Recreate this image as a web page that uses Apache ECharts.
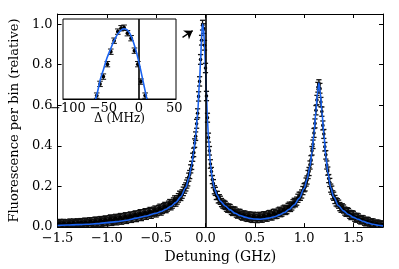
<!DOCTYPE html>
<html>
<head>
<meta charset="utf-8">
<script src="https://cdn.jsdelivr.net/npm/echarts@6/dist/echarts.min.js"></script>
<style>html,body{margin:0;padding:0;background:#fff}#c{width:399px;height:269px}</style>
</head>
<body>
<div id="c"></div>
<script>
// ---- main panel: measured fluorescence (GHz, relative) ----
const dataX = [
-1.500,-1.475,-1.450,-1.425,-1.400,-1.375,-1.350,-1.325,-1.300,-1.275,-1.250,-1.225,-1.200,-1.175,-1.150,-1.125,-1.100,-1.075,-1.050,-1.025,
-1.000,-0.975,-0.950,-0.925,-0.900,-0.875,-0.850,-0.825,-0.800,-0.775,-0.750,-0.725,-0.700,-0.675,-0.650,-0.625,-0.600,-0.575,-0.550,-0.525,
-0.500,-0.475,-0.450,-0.425,-0.400,-0.375,-0.350,-0.325,-0.300,-0.275,-0.250,-0.225,
-0.20,-0.19,-0.18,-0.17,-0.16,-0.15,-0.14,-0.13,-0.12,-0.11,-0.10,-0.09,-0.08,-0.07,-0.06,-0.05,-0.04,-0.03,-0.02,-0.01,
0.00,0.01,0.02,0.03,0.04,0.05,0.06,0.07,0.08,0.09,0.10,0.11,0.12,0.13,0.14,
0.150,0.175,0.200,0.225,0.250,0.275,0.300,0.325,0.350,0.375,0.400,0.425,0.450,0.475,0.500,0.525,0.550,0.575,0.600,0.625,
0.650,0.675,0.700,0.725,0.750,0.775,0.800,0.825,0.850,0.875,0.900,0.925,0.950,0.975,
1.00,1.01,1.02,1.03,1.04,1.05,1.06,1.07,1.08,1.09,1.10,1.11,1.12,1.13,1.14,1.15,1.16,1.17,1.18,1.19,
1.20,1.21,1.22,1.23,1.24,1.25,1.26,1.27,1.28,1.29,
1.300,1.325,1.350,1.375,1.400,1.425,1.450,1.475,1.500,1.525,1.550,1.575,1.600,1.625,1.650,1.675,1.700,1.725,1.750,1.775,1.800
];
const dataY = [
0.010,0.019,0.008,0.017,0.012,0.021,0.011,0.018,0.022,0.012,0.021,0.025,0.015,0.027,0.018,0.029,0.020,0.031,0.023,0.034,
0.026,0.037,0.028,0.039,0.031,0.043,0.034,0.046,0.038,0.051,0.043,0.056,0.047,0.061,0.052,0.066,0.058,0.072,0.063,0.078,
0.071,0.086,0.080,0.095,0.092,0.107,0.106,0.123,0.124,0.144,0.152,0.176,
0.198,0.212,0.223,0.246,0.259,0.287,0.304,0.344,0.368,0.414,0.448,0.509,0.561,0.644,0.718,0.826,0.921,0.995,0.978,0.896,
0.784,0.646,0.539,0.441,0.376,0.311,0.274,0.234,0.214,0.184,0.176,0.156,0.156,0.139,0.140,
0.132,0.114,0.107,0.093,0.091,0.077,0.078,0.064,0.067,0.054,0.059,0.048,0.054,0.043,0.052,0.042,0.053,0.044,0.056,0.049,
0.062,0.055,0.068,0.063,0.078,0.074,0.088,0.086,0.103,0.104,0.122,0.128,0.152,0.163,
0.194,0.198,0.222,0.232,0.259,0.274,0.306,0.331,0.376,0.408,0.464,0.511,0.576,0.626,0.689,0.702,0.684,0.616,0.569,0.501,
0.459,0.396,0.356,0.306,0.276,0.239,0.220,0.192,0.182,0.159,
0.152,0.124,0.113,0.093,0.089,0.073,0.072,0.057,0.058,0.044,0.046,0.034,0.036,0.025,0.028,0.018,0.021,0.012,0.015,0.008,0.010
];
const dataErr = [
0.019,0.019,0.019,0.019,0.019,0.019,0.019,0.019,0.019,0.019,0.019,0.019,0.019,0.019,0.019,0.019,0.019,0.019,0.019,0.019,
0.020,0.020,0.020,0.020,0.020,0.020,0.020,0.020,0.020,0.020,0.020,0.020,0.020,0.020,0.020,0.020,0.020,0.020,0.020,0.020,
0.021,0.021,0.021,0.021,0.021,0.021,0.021,0.021,0.021,0.021,0.021,0.021,
0.020,0.020,0.020,0.020,0.020,0.020,0.020,0.020,0.021,0.021,0.021,0.022,0.022,0.023,0.023,0.024,0.024,0.024,0.024,0.024,
0.023,0.023,0.022,0.022,0.021,0.021,0.020,0.020,0.020,0.020,0.020,0.020,0.020,0.020,0.020,
0.020,0.020,0.020,0.020,0.020,0.020,0.020,0.020,0.020,0.020,0.020,0.020,0.020,0.020,0.020,0.020,0.020,0.020,0.020,0.020,
0.020,0.020,0.020,0.020,0.020,0.020,0.020,0.020,0.020,0.020,0.020,0.020,0.020,0.020,
0.020,0.020,0.020,0.020,0.020,0.020,0.020,0.021,0.021,0.021,0.022,0.022,0.023,0.023,0.024,0.024,0.024,0.023,0.023,0.022,
0.022,0.021,0.021,0.020,0.020,0.020,0.020,0.020,0.020,0.020,
0.020,0.020,0.020,0.020,0.020,0.020,0.020,0.020,0.020,0.020,0.019,0.019,0.019,0.019,0.019,0.019,0.019,0.019,0.019,0.019,0.019
];
// interleaved bins in the wings (same scan, offset by half a step)
const extraX = [
-1.4875,-1.4625,-1.4375,-1.4125,-1.3875,-1.3625,-1.3375,-1.3125,-1.2875,-1.2625,-1.2375,-1.2125,-1.1875,-1.1625,-1.1375,-1.1125,-1.0875,-1.0625,-1.0375,-1.0125,
-0.9875,-0.9625,-0.9375,-0.9125,-0.8875,-0.8625,-0.8375,-0.8125,-0.7875,-0.7625,-0.7375,-0.7125,-0.6875,-0.6625,-0.6375,-0.6125,-0.5875,-0.5625,-0.5375,-0.5125,
-0.4875,-0.4625,-0.4375,-0.4125,-0.3875,-0.3625,-0.3375,-0.3125,-0.2875,-0.2625,-0.2375,-0.2125,
0.1625,0.1875,0.2125,0.2375,0.2625,0.2875,0.3125,0.3375,0.3625,0.3875,0.4125,0.4375,0.4625,0.4875,0.5125,0.5375,0.5625,0.5875,0.6125,0.6375,
0.6625,0.6875,0.7125,0.7375,0.7625,0.7875,0.8125,0.8375,0.8625,0.8875,0.9125,0.9375,0.9625,0.9875,
1.3125,1.3375,1.3625,1.3875,1.4125,1.4375,1.4625,1.4875,1.5125,1.5375,1.5625,1.5875,1.6125,1.6375,1.6625,1.6875,1.7125,1.7375,1.7625,1.7875
];
const extraY = [
0.016,0.012,0.019,0.010,0.017,0.014,0.021,0.013,0.019,0.023,0.016,0.024,0.019,0.027,0.021,0.030,0.024,0.033,0.027,0.036,
0.030,0.040,0.033,0.043,0.036,0.047,0.040,0.051,0.044,0.055,0.049,0.060,0.054,0.066,0.059,0.071,0.065,0.077,0.071,0.084,
0.078,0.092,0.088,0.101,0.099,0.115,0.114,0.133,0.134,0.156,0.163,0.188,
0.121,0.111,0.098,0.094,0.082,0.080,0.069,0.068,0.058,0.060,0.050,0.055,0.045,0.053,0.044,0.051,0.045,0.055,0.050,0.060,
0.056,0.067,0.062,0.074,0.071,0.084,0.082,0.097,0.097,0.115,0.120,0.142,0.152,0.180,
0.136,0.120,0.101,0.095,0.079,0.076,0.063,0.061,0.049,0.048,0.038,0.038,0.028,0.030,0.020,0.022,0.013,0.016,0.009,0.012
];
const extraErr = [
0.019,0.019,0.019,0.019,0.019,0.019,0.019,0.019,0.019,0.019,0.019,0.019,0.019,0.019,0.019,0.019,0.019,0.019,0.019,0.019,
0.020,0.020,0.020,0.020,0.020,0.020,0.020,0.020,0.020,0.020,0.020,0.020,0.020,0.020,0.020,0.020,0.020,0.020,0.020,0.020,
0.021,0.021,0.021,0.021,0.021,0.021,0.021,0.021,0.021,0.021,0.021,0.021,
0.020,0.020,0.020,0.020,0.020,0.020,0.020,0.020,0.020,0.020,0.020,0.020,0.020,0.020,0.020,0.020,0.020,0.020,0.020,0.020,
0.020,0.020,0.020,0.020,0.020,0.020,0.020,0.020,0.020,0.020,0.020,0.020,0.020,0.020,
0.020,0.020,0.020,0.020,0.020,0.020,0.020,0.020,0.020,0.020,0.019,0.019,0.019,0.019,0.019,0.019,0.019,0.019,0.019,0.019
];
// fitted curve, main panel
const fitX = [-1.5,-1.4,-1.3,-1.2,-1.1,-1.0,-0.9,-0.8,-0.7,-0.6,-0.5,-0.45,-0.4,-0.35,-0.3,-0.25,-0.2,-0.17,-0.14,-0.12,-0.10,-0.08,-0.06,-0.05,-0.04,-0.03,-0.02,-0.01,
0.00,0.01,0.02,0.03,0.05,0.07,0.09,0.12,0.15,0.2,0.25,0.3,0.35,0.4,0.45,0.5,0.55,0.6,0.65,0.7,0.75,0.8,0.85,0.9,0.95,1.0,1.03,1.06,1.08,1.10,1.12,1.135,1.15,1.165,
1.18,1.20,1.22,1.24,1.27,1.30,1.35,1.40,1.45,1.5,1.55,1.6,1.65,1.7,1.75,1.8];
const fitY = [0.008,0.010,0.012,0.014,0.017,0.022,0.027,0.034,0.044,0.055,0.068,0.077,0.088,0.103,0.122,0.150,0.195,0.240,0.305,0.370,0.450,0.560,0.720,0.820,0.930,1.000,0.980,0.900,
0.780,0.650,0.530,0.440,0.310,0.235,0.190,0.155,0.128,0.104,0.085,0.068,0.057,0.049,0.043,0.040,0.039,0.041,0.045,0.051,0.060,0.072,0.088,0.110,0.142,0.190,0.235,0.300,0.370,0.460,0.570,0.660,0.710,0.660,
0.570,0.460,0.350,0.270,0.195,0.148,0.105,0.080,0.062,0.048,0.038,0.028,0.020,0.014,0.009,0.006];
const xTicksMain = [-1.5,-1.0,-0.5,0.0,0.5,1.0,1.5];
const yTicksMain = [0.0,0.2,0.4,0.6,0.8,1.0];
// arrow annotation (data coords of main panel)
const arrowFrom = [-0.233, 0.935];
const arrowTo = [-0.130, 0.968];

// ---- inset: fine scan (MHz) ----
const insetX = [-59.4,-54.8,-50.1,-44.4,-39.6,-34.9,-29.7,-25.0,-20.8,-16.1,-10.9,-6.2,-1.4,2.8,8.9];
const insetY = [0.619,0.685,0.726,0.796,0.866,0.928,0.979,0.998,1.001,0.970,0.942,0.872,0.796,0.698,0.619];
const insetErr = [0.015,0.015,0.015,0.015,0.015,0.015,0.015,0.015,0.015,0.015,0.015,0.015,0.015,0.015,0.015];
const insetFitX = [-62,-58,-54,-50,-45,-40,-35,-30,-25,-21,-17,-13,-9,-5,-1,3,7,11,13];
const insetFitY = [0.585,0.645,0.715,0.765,0.830,0.880,0.928,0.965,0.988,0.995,0.990,0.970,0.935,0.885,0.825,0.755,0.680,0.605,0.565];
const insetXTicks = [-100,-50,0,50];

const FONT = 'DejaVu Serif';
const BLUE = '#1a63f0';
const minusFmt = (v, d) => v.toFixed(d).replace('-', '\u2212');

function makeErr(cw, r, lw) {
  return function (params, api) {
    const x = api.value(0), y = api.value(1), e = api.value(2);
    const t = api.coord([x, y + e]), b = api.coord([x, y - e]), c = api.coord([x, y]);
    const st = { stroke: '#111', lineWidth: lw };
    return {
      type: 'group',
      children: [
        { type: 'line', shape: { x1: t[0], y1: t[1], x2: b[0], y2: b[1] }, style: st },
        { type: 'line', shape: { x1: t[0] - cw, y1: t[1], x2: t[0] + cw, y2: t[1] }, style: st },
        { type: 'line', shape: { x1: b[0] - cw, y1: b[1], x2: b[0] + cw, y2: b[1] }, style: st },
        { type: 'circle', shape: { cx: c[0], cy: c[1], r: r }, style: { fill: '#000' } }
      ]
    };
  };
}

const mainData = dataX.map((x, i) => [x, dataY[i], dataErr[i]])
  .concat(extraX.map((x, i) => [x, extraY[i], extraErr[i]]));
const mainFit = fitX.map((x, i) => [x, fitY[i]]);
const inData = insetX.map((x, i) => [x, insetY[i], insetErr[i]]);
const inFit = insetFitX.map((x, i) => [x, insetFitY[i]]);

const near = (v, arr) => arr.some(t => Math.abs(t - v) < 1e-6);

const chart = echarts.init(document.getElementById('c'), null, { renderer: 'canvas' });
chart.setOption({
  animation: false,
  backgroundColor: '#fff',
  textStyle: { fontFamily: FONT },
  grid: [
    { left: 48, right: 16, top: 14, bottom: 40, show: false },
    { left: 63, top: 19, width: 113, height: 80, show: true, backgroundColor: '#fff', borderColor: '#000', borderWidth: 1, z: 5 }
  ],
  xAxis: [
    { gridIndex: 0, type: 'value', min: -1.5, max: 1.8, interval: 0.5, position: 'bottom',
      axisLine: { onZero: false, lineStyle: { color: '#000', width: 1 } },
      axisTick: { inside: true, length: 4, lineStyle: { color: '#000' } },
      axisLabel: { margin: 5, color: '#000', fontFamily: FONT, fontSize: 13, showMaxLabel: false,
        formatter: v => near(v, xTicksMain) ? minusFmt(v, 1) : '' },
      splitLine: { show: false },
      name: 'Detuning (GHz)', nameLocation: 'middle', nameGap: 21,
      nameTextStyle: { color: '#000', fontFamily: FONT, fontSize: 14 } },
    { gridIndex: 0, type: 'value', min: -1.5, max: 1.8, interval: 0.5, position: 'top',
      axisLine: { onZero: false, lineStyle: { color: '#000', width: 1 } },
      axisTick: { inside: true, length: 4, lineStyle: { color: '#000' } },
      axisLabel: { show: false }, splitLine: { show: false } },
    { gridIndex: 1, type: 'value', min: -107, max: 52.4, splitNumber: 3, position: 'bottom', z: 10,
      axisLine: { onZero: false, lineStyle: { color: '#000', width: 1 } },
      axisTick: { show: false },
      axisLabel: { margin: 3, color: '#000', fontFamily: FONT, fontSize: 13, showMinLabel: true, showMaxLabel: true,
        hideOverlap: false,
        formatter: v => near(v, insetXTicks) ? minusFmt(v, 0) : '' },
      splitLine: { show: false },
      name: '\u0394 (MHz)', nameLocation: 'middle', nameGap: 14, nameMoveOverlap: false,
      nameTextStyle: { color: '#000', fontFamily: FONT, fontSize: 12 } }
  ],
  yAxis: [
    { gridIndex: 0, type: 'value', min: 0, max: 1.05, interval: 0.2, position: 'left',
      axisLine: { onZero: false, lineStyle: { color: '#000', width: 1 } },
      axisTick: { inside: true, length: 4, lineStyle: { color: '#000' } },
      axisLabel: { margin: 5, color: '#000', fontFamily: FONT, fontSize: 13, showMaxLabel: false,
        formatter: v => near(v, yTicksMain) ? minusFmt(v, 1) : '' },
      splitLine: { show: false },
      name: 'Fluorescence per bin (relative)', nameLocation: 'middle', nameGap: 33,
      nameTextStyle: { color: '#000', fontFamily: FONT, fontSize: 13 } },
    { gridIndex: 0, type: 'value', min: 0, max: 1.05, interval: 0.2, position: 'right',
      axisLine: { onZero: false, lineStyle: { color: '#000', width: 1 } },
      axisTick: { inside: true, length: 4, lineStyle: { color: '#000' } },
      axisLabel: { show: false }, splitLine: { show: false } },
    { gridIndex: 1, type: 'value', min: 0.6, max: 1.05, position: 'left',
      axisLine: { show: false }, axisTick: { show: false }, axisLabel: { show: false }, splitLine: { show: false } }
  ],
  series: [
    { type: 'custom', xAxisIndex: 0, yAxisIndex: 0, data: mainData, renderItem: makeErr(2.6, 1.8, 1.3), clip: true, z: 2 },
    { type: 'line', xAxisIndex: 0, yAxisIndex: 0, data: mainFit, showSymbol: false, smooth: 0.3, smoothMonotone: 'x',
      lineStyle: { color: BLUE, width: 1.6 }, z: 3,
      markLine: { silent: true, symbol: ['none', 'arrow'], symbolSize: 8, label: { show: false },
        lineStyle: { color: '#000', width: 1.3, type: 'solid' },
        data: [[{ coord: arrowFrom }, { coord: arrowTo }]] } },
    { type: 'line', xAxisIndex: 0, yAxisIndex: 0, data: [], z: 4,
      markLine: { silent: true, symbol: 'none', label: { show: false },
        lineStyle: { color: '#000', width: 1.6, type: 'solid' }, data: [{ xAxis: 0 }] } },
    { type: 'custom', xAxisIndex: 2, yAxisIndex: 2, data: inData, renderItem: makeErr(2.8, 1.9, 1.0), clip: true, z: 6 },
    { type: 'line', xAxisIndex: 2, yAxisIndex: 2, data: inFit, showSymbol: false, smooth: 0.4, clip: true,
      lineStyle: { color: BLUE, width: 1.6 }, z: 7 },
    { type: 'line', xAxisIndex: 2, yAxisIndex: 2, data: [], z: 8,
      markLine: { silent: true, symbol: 'none', label: { show: false },
        lineStyle: { color: '#000', width: 1.6, type: 'solid' }, data: [{ xAxis: 0 }] } }
  ]
});
</script>
</body>
</html>
